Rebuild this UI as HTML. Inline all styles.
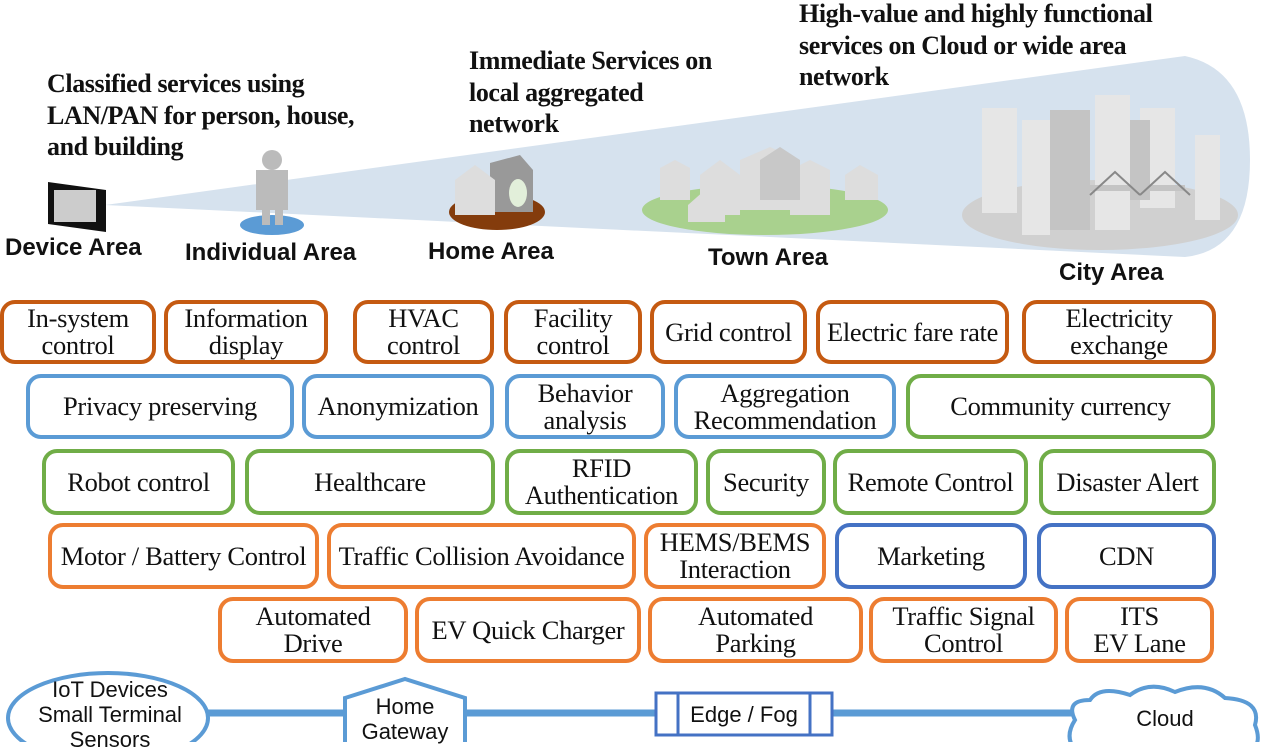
<!DOCTYPE html>
<html><head><style>
body{margin:0;width:1265px;height:742px;overflow:hidden;background:#fff;position:relative;font-family:"Liberation Serif",serif}
.b{position:absolute;box-sizing:border-box;border:4px solid;border-radius:15px;display:flex;align-items:center;justify-content:center;text-align:center;font-size:26.5px;line-height:27px;color:#111;background:#fff;white-space:nowrap;letter-spacing:-0.3px}
.o1{border-color:#c55a11}.lb{border-color:#5b9bd5}.g{border-color:#70ad47}.o{border-color:#ed7d31}.db{border-color:#4472c4}
.t{position:absolute;font-weight:bold;font-size:26px;line-height:31.5px;color:#111;white-space:nowrap;letter-spacing:-0.4px}
.a{position:absolute;font-family:"Liberation Sans",sans-serif;font-weight:bold;font-size:24px;color:#111;white-space:nowrap}
.s{position:absolute;font-family:"Liberation Sans",sans-serif;font-size:22px;color:#111;text-align:center;line-height:25px;white-space:nowrap}
</style></head><body>
<svg width="1265" height="742" style="position:absolute;left:0;top:0">
<path d="M105,205 L1185,56 Q1250,70 1250,160 Q1250,250 1185,257 Z" fill="#d6e2ee"/>
<polygon points="48,182 106,190 106,232 48,224" fill="#111"/>
<rect x="54" y="190" width="42" height="32" fill="#ccc"/>
<ellipse cx="272" cy="225" rx="32" ry="10" fill="#5b9bd5"/>
<circle cx="272" cy="160" r="10" fill="#bbb"/>
<rect x="256" y="170" width="32" height="40" fill="#bbb"/>
<rect x="262" y="205" width="8" height="20" fill="#bbb"/><rect x="275" y="205" width="8" height="20" fill="#bbb"/>
<ellipse cx="497" cy="212" rx="48" ry="18" fill="#843c0c"/>
<polygon points="490,163 520,155 533,170 533,212 490,212" fill="#999"/>
<polygon points="455,180 475,165 495,180 495,215 455,215" fill="#ddd"/>
<ellipse cx="518" cy="193" rx="9" ry="14" fill="#e2efda"/>
<ellipse cx="765" cy="210" rx="123" ry="25" fill="#a9d18e"/>
<g fill="#ddd"><polygon points="660,168 675,160 690,168 690,200 660,200"/><polygon points="700,175 720,160 740,175 740,215 700,215"/><polygon points="740,160 770,147 800,160 800,210 740,210"/><polygon points="790,170 810,160 830,170 830,215 790,215"/><polygon points="845,175 860,165 878,175 878,200 845,200"/><polygon points="688,205 705,190 725,205 725,222 688,222"/></g>
<g fill="#c8c8c8"><polygon points="760,160 780,147 800,160 800,200 760,200"/></g>
<ellipse cx="1100" cy="215" rx="138" ry="35" fill="#d0d0d0"/>
<g fill="#e6e6e6"><rect x="982" y="108" width="35" height="105"/><rect x="1022" y="120" width="28" height="115"/><rect x="1095" y="95" width="35" height="135"/><rect x="1140" y="108" width="35" height="100"/><rect x="1195" y="135" width="25" height="85"/></g>
<g fill="#c4c4c4"><rect x="1050" y="110" width="40" height="120"/><rect x="1130" y="120" width="20" height="80"/><rect x="1075" y="185" width="110" height="6"/></g>
<path d="M1090,195 L1115,172 L1140,195 M1140,195 L1165,172 L1190,195" stroke="#888" stroke-width="2" fill="none"/>
<line x1="205" y1="713" x2="1090" y2="713" stroke="#5b9bd5" stroke-width="7"/>
<ellipse cx="108" cy="718" rx="100" ry="45" fill="#fff" stroke="#5b9bd5" stroke-width="4"/>
<polygon points="345,698 405,679 465,698 465,760 345,760" fill="#fff" stroke="#5b9bd5" stroke-width="4"/>
<rect x="656" y="693" width="176" height="42" fill="#fff" stroke="#4472c4" stroke-width="3"/>
<line x1="678" y1="693" x2="678" y2="735" stroke="#4472c4" stroke-width="3"/>
<line x1="810" y1="693" x2="810" y2="735" stroke="#4472c4" stroke-width="3"/>
<path d="M1075,720 Q1065,700 1090,700 Q1100,685 1130,695 Q1150,680 1175,692 Q1205,680 1225,698 Q1262,700 1255,725 Q1265,750 1240,755 L1080,755 Q1062,740 1075,720 Z" fill="#fff" stroke="#5b9bd5" stroke-width="4"/>
</svg>
<div class="t" style="left:47px;top:68px">Classified services using<br>LAN/PAN for person, house,<br>and building</div>
<div class="t" style="left:469px;top:45px">Immediate Services on<br>local aggregated<br>network</div>
<div class="t" style="left:799px;top:-2px">High-value and highly functional<br>services on Cloud or wide area<br>network</div>
<div class="a" style="left:5px;top:234px">Device Area</div>
<div class="a" style="left:185px;top:239px">Individual Area</div>
<div class="a" style="left:428px;top:238px">Home Area</div>
<div class="a" style="left:708px;top:244px">Town Area</div>
<div class="a" style="left:1059px;top:259px">City Area</div>

<div class="b o1" style="left:0;top:300px;width:156px;height:64px">In-system<br>control</div>
<div class="b o1" style="left:164px;top:300px;width:164px;height:64px">Information<br>display</div>
<div class="b o1" style="left:353px;top:300px;width:141px;height:64px">HVAC<br>control</div>
<div class="b o1" style="left:504px;top:300px;width:138px;height:64px">Facility<br>control</div>
<div class="b o1" style="left:650px;top:300px;width:157px;height:64px">Grid control</div>
<div class="b o1" style="left:816px;top:300px;width:193px;height:64px">Electric fare rate</div>
<div class="b o1" style="left:1022px;top:300px;width:194px;height:64px">Electricity<br>exchange</div>

<div class="b lb" style="left:26px;top:374px;width:268px;height:65px">Privacy preserving</div>
<div class="b lb" style="left:302px;top:374px;width:192px;height:65px">Anonymization</div>
<div class="b lb" style="left:505px;top:374px;width:160px;height:65px">Behavior<br>analysis</div>
<div class="b lb" style="left:674px;top:374px;width:222px;height:65px">Aggregation<br>Recommendation</div>
<div class="b g" style="left:906px;top:374px;width:309px;height:65px">Community currency</div>

<div class="b g" style="left:42px;top:449px;width:193px;height:66px">Robot control</div>
<div class="b g" style="left:245px;top:449px;width:250px;height:66px">Healthcare</div>
<div class="b g" style="left:505px;top:449px;width:193px;height:66px">RFID<br>Authentication</div>
<div class="b g" style="left:706px;top:449px;width:120px;height:66px">Security</div>
<div class="b g" style="left:833px;top:449px;width:195px;height:66px">Remote Control</div>
<div class="b g" style="left:1039px;top:449px;width:177px;height:66px">Disaster Alert</div>

<div class="b o" style="left:48px;top:523px;width:271px;height:66px">Motor / Battery Control</div>
<div class="b o" style="left:327px;top:523px;width:309px;height:66px">Traffic Collision Avoidance</div>
<div class="b o" style="left:644px;top:523px;width:182px;height:66px">HEMS/BEMS<br>Interaction</div>
<div class="b db" style="left:835px;top:523px;width:192px;height:66px">Marketing</div>
<div class="b db" style="left:1037px;top:523px;width:179px;height:66px">CDN</div>

<div class="b o" style="left:218px;top:597px;width:190px;height:66px">Automated<br>Drive</div>
<div class="b o" style="left:415px;top:597px;width:226px;height:66px">EV Quick Charger</div>
<div class="b o" style="left:648px;top:597px;width:215px;height:66px">Automated<br>Parking</div>
<div class="b o" style="left:869px;top:597px;width:189px;height:66px">Traffic Signal<br>Control</div>
<div class="b o" style="left:1065px;top:597px;width:149px;height:66px">ITS<br>EV Lane</div>

<div class="s" style="left:20px;top:677px;width:180px">IoT Devices<br>Small Terminal<br>Sensors</div>
<div class="s" style="left:345px;top:694px;width:120px">Home<br>Gateway</div>
<div class="s" style="left:678px;top:702px;width:132px">Edge / Fog</div>
<div class="s" style="left:1105px;top:706px;width:120px">Cloud</div>
</body></html>
